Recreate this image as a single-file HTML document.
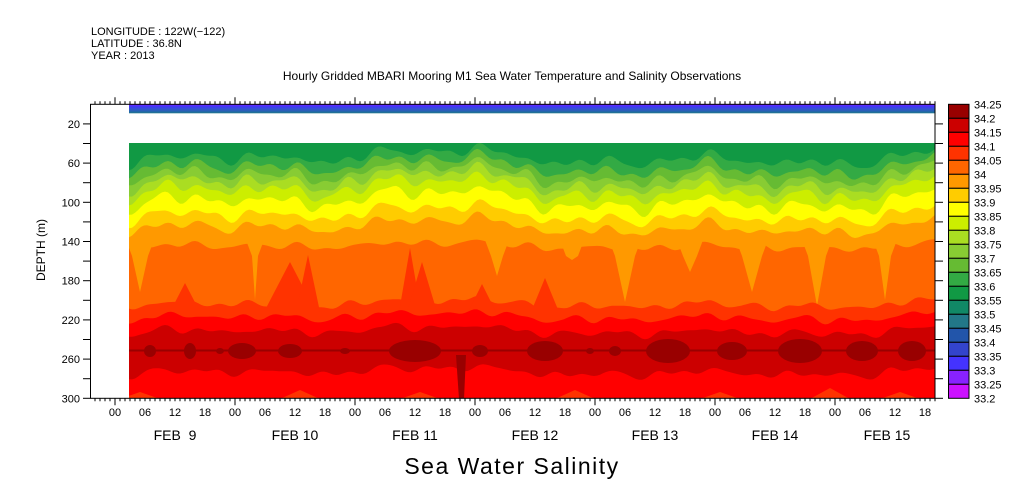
<!DOCTYPE html>
<html><head><meta charset="utf-8"><style>
html,body{margin:0;padding:0;background:#fff;}
svg{display:block;font-family:"Liberation Sans",sans-serif;}
</style></head><body>
<svg id="s" width="1009" height="504" xmlns="http://www.w3.org/2000/svg">
<defs>
<linearGradient id="bs" x1="0" y1="0" x2="0" y2="1">
<stop offset="0" stop-color="#8822ff"/><stop offset="0.2" stop-color="#4433ff"/><stop offset="0.55" stop-color="#3355cc"/><stop offset="0.8" stop-color="#2266aa"/><stop offset="1" stop-color="#227788"/>
</linearGradient>
<clipPath id="cp"><rect x="129" y="143" width="806" height="255.3"/></clipPath>
</defs>
<rect width="1009" height="504" fill="#fff"/>
<g id="field" clip-path="url(#cp)"></g>
<rect x="129" y="104.3" width="806" height="9" fill="url(#bs)"/>
<g id="axes" stroke="#000" stroke-width="1" fill="none"></g>
<g id="txt" font-size="11" fill="#000"></g>
<text x="91" y="35" font-size="11">LONGITUDE : 122W(−122)</text>
<text x="91" y="47" font-size="11">LATITUDE : 36.8N</text>
<text x="91" y="59" font-size="11">YEAR : 2013</text>
<text x="512" y="80" font-size="12" text-anchor="middle">Hourly Gridded MBARI Mooring M1 Sea Water Temperature and Salinity Observations</text>
<text x="45" y="250" font-size="12" text-anchor="middle" transform="rotate(-90 45 250)">DEPTH (m)</text>
<text x="512" y="474" font-size="23" text-anchor="middle" letter-spacing="1.5">Sea Water Salinity</text>
</svg>
<script>
var NS="http://www.w3.org/2000/svg";
function el(p,n,a){var e=document.createElementNS(NS,n);for(var k in a)e.setAttribute(k,a[k]);p.appendChild(e);return e;}
var F=document.getElementById('field'),A=document.getElementById('axes'),T=document.getElementById('txt');
var X0=129,X1=935,YB=399;
function coh(x){return 5*Math.sin(x/41)+3.5*Math.sin(x/17+1)+2.5*Math.sin(x/7.3+2)+5*Math.sin(x/97+0.5)+2*Math.sin(x/4.1+1.3);}
function band(base,amp,seed,color){
 var pts=[];
 for(var x=X0-3;x<=X1+3;x+=3){
  var y=base+amp*coh(x)+1.8*Math.sin(x/9.1+seed)+1.4*Math.sin(x/5.3+seed*2);
  pts.push(x+","+y.toFixed(1));
 }
 pts.push((X1+3)+","+YB);pts.push((X0-3)+","+YB);
 el(F,'polygon',{points:pts.join(" "),fill:color});
}
el(F,'rect',{x:129,y:143,width:806,height:256,fill:'#119944'});
band(158,0.9,1,'#33aa44');
band(167,1.1,2,'#66bb33');
band(175,1.2,3,'#88cc33');
band(182,1.3,4,'#aadd22');
band(190,1.3,5,'#ccee00');
band(201,1.2,6,'#ffff00');
band(215,1.0,7,'#ffcc00');
band(227,0.9,8,'#ff9900');
band(246,0.4,9,'#ff6600');
[[140,8,292],[255,3,300],[497,6,276],[572,6,260],[625,10,302],[690,7,272],[752,10,292],[817,9,306],[885,6,300]].forEach(function(f){
 el(F,'polygon',{points:(f[0]-f[1]-6)+",240 "+(f[0]-f[1])+",256 "+f[0]+","+f[2]+" "+(f[0]+f[1])+",256 "+(f[0]+f[1]+6)+",240",fill:'#ff9900'});
});
band(304,0.5,10,'#ff3300');
[[185,7,283],[290,18,262],[410,3,248],[422,7,262],[482,6,284],[545,6,278],[308,4,255]].forEach(function(f){
 el(F,'polygon',{points:(f[0]-f[1]-8)+",312 "+f[0]+","+f[2]+" "+(f[0]+f[1]+8)+",312",fill:'#ff3300'});
});
band(317,0.5,11,'#ff0000');
band(331,0.5,12,'#cc0000');
band(372,0.5,13,'#ff0000');
[[140,392],[300,390],[420,392],[575,390],[720,392],[830,388],[900,392]].forEach(function(f){
 el(F,'polygon',{points:(f[0]-20)+",399 "+f[0]+","+f[1]+" "+(f[0]+20)+",399",fill:'#ff3300'});
});
el(F,'rect',{x:129,y:349.5,width:806,height:2,fill:'#990000'});
[[150,6,6],[190,6,8],[242,14,8],[290,12,7],[415,26,11],[480,8,6],[545,18,10],[615,6,5],[668,22,12],[732,15,9],[800,22,12],[862,16,10],[912,14,10],[220,4,3],[345,5,3],[590,4,3]].forEach(function(b){
 el(F,'ellipse',{cx:b[0],cy:351,rx:b[1],ry:b[2],fill:'#990000'});
});
el(F,'polygon',{points:"456,355 459,399 464,399 466,355",fill:'#990000'});
el(A,'rect',{x:90.5,y:104.3,width:844.5,height:294});
var yd=function(d){return 104.3+d*0.98;};
for(var d=20;d<=300;d+=20){var y=yd(d);el(A,'line',{x1:83,y1:y,x2:90.5,y2:y});el(A,'line',{x1:935,y1:y,x2:943,y2:y});
 if(d%40==20||d==300){var t=el(T,'text',{x:80,y:y+4,'text-anchor':'end'});t.textContent=d;}}
for(var h=-5;h<=164;h++){var x=115+h*5;if(x<91||x>935)continue;var mj=(h%6==0);
 el(A,'line',{x1:x,y1:398.3,x2:x,y2:398.3+(h%24==0?7:3)});
 el(A,'line',{x1:x,y1:104.3,x2:x,y2:104.3-(h%24==0?7:3)});
 if(mj){var lab=["00","06","12","18"][((h/6)%4+4)%4];var t=el(T,'text',{x:x,y:416,'text-anchor':'middle'});t.textContent=lab;}}
var days=["FEB  9","FEB 10","FEB 11","FEB 12","FEB 13","FEB 14","FEB 15"];
days.forEach(function(s,i){var t=el(T,'text',{x:175+120*i+(i==6?-8:0),y:440,'text-anchor':'middle','font-size':'14'});t.setAttribute('style','white-space:pre');t.textContent=s;});
var cols=['#990000','#cc0000','#ff0000','#ff3300','#ff6600','#ff9900','#ffcc00','#ffff00','#ccee00','#aadd22','#88cc33','#66bb33','#33aa44','#119944','#118866','#227788','#2255aa','#3344cc','#4433ff','#8822ff','#cc11ff'];
var labs=['34.25','34.2','34.15','34.1','34.05','34','33.95','33.9','33.85','33.8','33.75','33.7','33.65','33.6','33.55','33.5','33.45','33.4','33.35','33.3','33.25','33.2'];
cols.forEach(function(c,i){el(A,'rect',{x:948.5,y:104.3+i*14,width:20.5,height:14,fill:c});});
labs.forEach(function(l,i){var t=el(T,'text',{x:974,y:108.5+i*14});t.textContent=l;});
</script>
</body></html>
